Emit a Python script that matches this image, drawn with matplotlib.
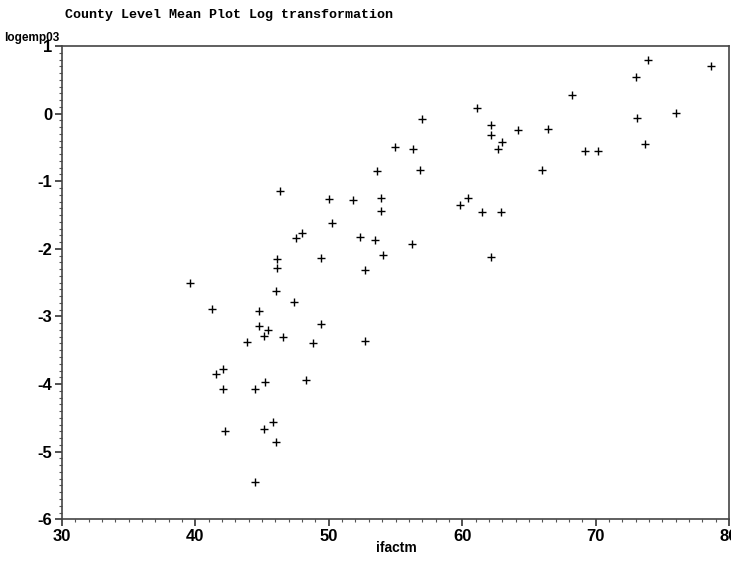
import matplotlib
matplotlib.use("Agg")
import matplotlib.pyplot as plt
from matplotlib.ticker import MultipleLocator

title = "County Level Mean Plot Log transformation"
x_label = "ifactm"
y_label = "logemp03"

ifactm = [46.34, 50.01, 50.22, 47.52, 48.01, 49.42, 46.14, 46.14, 39.60, 46.04,
          47.41, 41.22, 44.75, 44.79, 45.42, 45.17, 46.59, 49.42, 43.87, 48.79,
          42.07, 41.52, 42.07, 44.49, 45.24, 48.27, 42.22, 45.17, 45.79, 46.06,
          44.47, 52.69, 61.13, 56.99, 62.18, 62.18, 64.16, 66.41, 63.01, 62.66,
          54.94, 56.31, 53.61, 56.84, 66.00, 51.81, 53.89, 53.89, 60.43, 59.84,
          61.51, 62.93, 52.32, 53.46, 54.09, 56.26, 62.16, 52.69, 73.91, 78.67,
          73.05, 68.21, 76.00, 73.13, 73.73, 69.21, 70.20]
logemp03 = [-1.145, -1.267, -1.613, -1.835, -1.761, -2.140, -2.155, -2.288, -2.510, -2.624,
            -2.791, -2.894, -2.924, -3.141, -3.200, -3.289, -3.309, -3.112, -3.382, -3.388,
            -3.773, -3.851, -4.069, -4.069, -3.965, -3.940, -4.694, -4.660, -4.566, -4.853,
            -5.453, -3.359, 0.083, -0.084, -0.173, -0.312, -0.247, -0.223, -0.424, -0.519,
            -0.498, -0.519, -0.844, -0.838, -0.838, -1.273, -1.253, -1.436, -1.248, -1.352,
            -1.460, -1.455, -1.821, -1.869, -2.096, -1.924, -2.121, -2.318, 0.797, 0.704,
            0.537, 0.275, 0.013, -0.065, -0.445, -0.557, -0.557]

x_ticks = [30, 40, 50, 60, 70, 80]
y_ticks = [-6, -5, -4, -3, -2, -1, 0, 1]

tick_font = 'Liberation Sans'

fig = plt.figure(figsize=(7.31, 5.65), dpi=100)
ax = fig.add_axes([0.0848, 0.0809, 0.9125, 0.8377])
ax.scatter(ifactm, logemp03, marker='+', s=28, c='black', linewidths=1.0)

ax.set_xlim(30, 80)
ax.set_ylim(-6, 1)
ax.set_xticks(x_ticks)
ax.set_yticks(y_ticks)
ax.set_xticklabels([str(v) for v in x_ticks])
ax.set_yticklabels([str(v) for v in y_ticks])
ax.xaxis.set_minor_locator(MultipleLocator(1))
ax.yaxis.set_minor_locator(MultipleLocator(0.1))
ax.tick_params(axis='both', which='major', direction='out', length=5, width=1.2,
               color='#333333', labelsize=12)
ax.tick_params(axis='both', which='minor', direction='out', length=2, width=0.8,
               color='#555555')
ax.tick_params(axis='x', pad=2)
ax.tick_params(axis='y', pad=2)
for lab in ax.get_xticklabels() + ax.get_yticklabels():
    lab.set_family(tick_font)
    lab.set_fontweight('bold')

for sp in ax.spines.values():
    sp.set_color('#444444')
    sp.set_linewidth(1.2)

fig.text(65 / 731, 1 - 15 / 565, title, family='Liberation Mono', fontweight='bold',
         fontsize=9.6, ha='left', va='center')
fig.text(4 / 731, 1 - 38 / 565, y_label, family=tick_font, fontweight='bold',
         fontsize=8.5, ha='left', va='center')
fig.text(396 / 731, 1 - 548 / 565, x_label, family=tick_font, fontweight='bold',
         fontsize=10, ha='center', va='center')

fig.savefig('out.png', dpi=100)
